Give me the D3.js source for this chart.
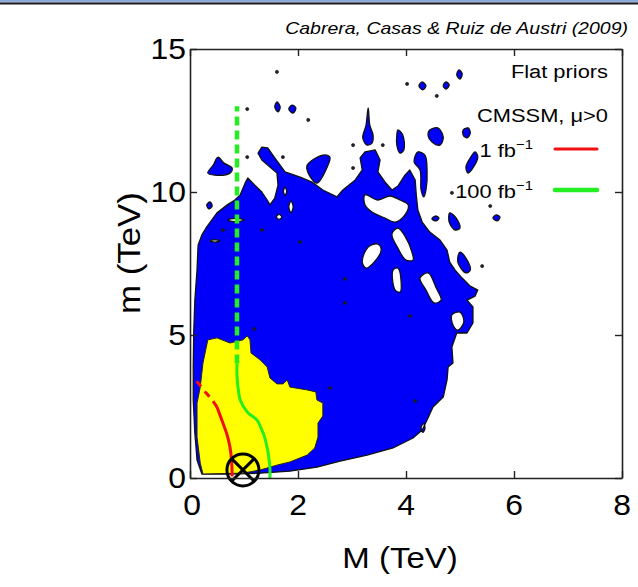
<!DOCTYPE html>
<html>
<head>
<meta charset="utf-8">
<script src="https://cdn.jsdelivr.net/npm/d3@7"></script>
<style>
  html, body { margin: 0; padding: 0; background: #fff; }
  svg { display: block; }
  text { font-family: "Liberation Sans", Arial, sans-serif; fill: #000; }
</style>
</head>
<body>
<svg id="chart" width="638" height="587"></svg>
<script>
// Axis domains and tick values (TeV)
const xDomain = [0, 8];
const yDomain = [0, 15];
const xTicks = [0, 2, 4, 6, 8];
const yTicks = [0, 5, 10, 15];

// 68% region (blue): outer boundary, [M, m] in TeV
const blueRegion = [
  [0.22,0.14],[0.13,0.63],[0.09,1.57],[0.06,2.73],[0.06,3.88],[0.07,5.17],[0.09,6.22],
  [0.13,7.27],[0.15,8.15],[0.22,8.50],[0.31,8.78],[0.50,9.27],[0.69,9.55],[0.83,9.72],
  [0.93,9.90],[1.02,10.31],[1.07,10.49],[1.20,10.24],[1.33,10.00],[1.43,9.72],[1.48,9.55],
  [1.57,9.79],[1.63,10.24],[1.61,10.66],[1.48,10.87],[1.33,11.12],[1.26,11.36],[1.33,11.57],
  [1.44,11.54],[1.57,11.19],[1.76,10.70],[2.04,10.52],[2.26,10.35],[2.46,10.07],[2.72,9.83],
  [2.83,10.07],[3.06,10.42],[3.19,10.77],[3.15,11.19],[3.24,11.40],[3.43,11.47],[3.52,11.12],
  [3.48,10.70],[3.61,10.35],[3.74,10.07],[3.85,10.21],[3.98,10.59],[4.07,10.77],[4.17,10.42],
  [4.19,9.90],[4.22,9.37],[4.30,8.95],[4.44,8.60],[4.63,8.32],[4.76,7.97],[4.81,7.55],
  [4.91,7.27],[5.04,6.99],[5.19,6.71],[5.33,6.57],[5.28,6.36],[5.13,6.22],[5.24,5.98],
  [5.24,5.42],[5.13,5.07],[4.94,5.07],[4.85,4.58],[4.87,4.02],[4.78,3.88],[4.76,3.43],
  [4.69,2.83],[4.50,2.48],[4.39,2.03],[4.30,1.68],[4.13,1.40],[3.76,1.05],[3.28,0.80],
  [2.78,0.59],[2.35,0.38],[1.85,0.24],[1.30,0.17],[0.74,0.14]
];

// Gaps inside the blue region
const blueHoles = [
  [[3.24,9.90],[3.48,9.72],[3.70,9.86],[3.89,9.72],[4.04,9.55],[3.98,9.20],[3.80,8.95],[3.61,9.09],[3.37,9.30],[3.24,9.55]],
  [[3.19,7.55],[3.30,8.08],[3.48,8.18],[3.54,7.97],[3.41,7.55],[3.26,7.34]],
  [[3.74,8.53],[3.85,8.74],[3.98,8.46],[4.11,7.90],[4.13,7.62],[4.00,7.62],[3.85,8.04]],
  [[4.26,6.99],[4.41,7.17],[4.56,6.64],[4.65,6.22],[4.52,6.12],[4.37,6.57]],
  [[3.76,7.27],[3.85,7.34],[3.91,6.85],[3.89,6.50],[3.80,6.57]],
  [[4.85,5.70],[5.00,5.80],[5.07,5.45],[4.96,5.17],[4.87,5.35]],
  [[0.70,9.02],[0.85,9.08],[1.00,9.02],[0.85,8.96]],
  [[0.37,8.29],[0.46,8.33],[0.55,8.29],[0.46,8.25]],
  [[1.87,9.68],[1.91,9.48],[1.87,9.28],[1.83,9.48]],
  [[1.60,9.13],[1.65,9.22],[1.70,9.13],[1.65,9.04]],
  [[1.76,10.17],[1.79,10.03],[1.76,9.89],[1.73,10.03]],
  [[4.28,1.78],[4.33,1.90],[4.35,1.72],[4.31,1.60]]
];

// Detached blue patches
const blueIslands = [
  [[0.33,10.66],[0.43,10.94],[0.52,11.22],[0.63,11.01],[0.78,10.84],[0.74,10.66],[0.46,10.59]],
  [[2.17,10.94],[2.46,11.29],[2.59,11.22],[2.54,10.87],[2.35,10.31],[2.19,10.66]],
  [[3.30,12.94],[3.33,12.34],[3.39,11.99],[3.37,11.71],[3.28,11.64],[3.20,11.89],[3.26,12.34]],
  [[3.85,12.17],[3.94,11.99],[3.96,11.47],[3.89,11.36],[3.83,11.64],[3.83,11.99]],
  [[4.44,12.17],[4.59,12.24],[4.69,11.92],[4.63,11.64],[4.48,11.75],[4.41,11.96]],
  [[5.06,12.17],[5.15,12.24],[5.19,12.06],[5.13,11.89],[5.06,11.99]],
  [[5.28,11.40],[5.33,11.22],[5.24,10.84],[5.15,10.66],[5.11,10.87],[5.19,11.19]],
  [[4.22,11.40],[4.35,11.29],[4.39,10.77],[4.37,10.07],[4.33,9.83],[4.28,10.07],[4.26,10.77],[4.15,11.05]],
  [[1.61,13.15],[1.67,12.97],[1.63,12.80],[1.57,12.97]],
  [[1.89,13.04],[1.96,12.94],[1.91,12.76],[1.83,12.90]],
  [[4.98,14.27],[5.04,14.13],[5.00,13.95],[4.94,14.09]],
  [[4.30,13.85],[4.37,13.71],[4.31,13.57],[4.24,13.71]],
  [[4.74,13.85],[4.80,13.74],[4.74,13.60],[4.69,13.71]],
  [[4.81,9.27],[4.93,9.09],[5.00,8.74],[4.91,8.67],[4.80,8.95]],
  [[5.67,9.20],[5.74,9.13],[5.69,8.99],[5.61,9.09]],
  [[4.54,9.16],[4.61,9.09],[4.56,8.99],[4.48,9.06]],
  [[5.00,7.90],[5.11,7.69],[5.19,7.27],[5.11,7.17],[4.96,7.55]],
  [[0.37,9.65],[0.41,9.51],[0.35,9.41],[0.31,9.55]]
];

// Tiny contour specks
const specks = [
  [1.61,14.20],[4.02,13.78],[4.57,13.36],[1.06,12.90],[2.19,12.52],[3.02,11.64],[3.57,11.64],
  [1.06,11.22],[1.72,11.22],[3.02,10.84],[4.85,9.97],[5.56,9.51],[5.41,7.41],[2.87,6.96],
  [2.87,6.12],[4.07,5.66],[1.19,5.21],[2.59,3.15],[4.17,2.69],[2.04,8.25],[1.33,8.67],[0.61,8.67]
];

// 95% region (yellow)
const yellowRegion = [
  [0.33,4.83],[0.50,4.90],[0.74,4.72],[0.98,4.83],[1.06,4.97],[1.11,4.83],[1.13,4.37],
  [1.30,4.13],[1.43,3.88],[1.48,3.50],[1.61,3.29],[1.72,3.29],[1.80,3.43],[1.85,3.18],
  [2.17,3.08],[2.33,3.01],[2.35,2.73],[2.46,2.62],[2.46,2.17],[2.37,1.92],[2.37,1.43],
  [2.31,1.05],[2.17,0.80],[1.85,0.56],[1.61,0.45],[1.30,0.28],[0.98,0.17],[0.24,0.14],
  [0.19,0.52],[0.13,1.43],[0.13,2.62],[0.19,3.18],[0.24,4.02]
];

// LHC reach, 1 fb^-1 (red): solid part and dashed continuation
const reach1Solid = [[0.78,0.05],[0.77,0.60],[0.74,1.08],[0.68,1.55],[0.61,1.92],[0.50,2.48]];
const reach1Dashed = [[0.50,2.48],[0.41,2.73],[0.30,2.97],[0.17,3.28],[0.07,3.50]];

// LHC reach, 100 fb^-1 (green)
const reach100Solid = [[1.48,0.0],[1.48,0.35],[1.45,0.85],[1.43,1.05],[1.37,1.50],[1.33,1.68],
  [1.24,2.03],[1.06,2.31],[0.93,2.73],[0.89,3.15],[0.87,3.60],[0.87,4.00]];
const reach100Dashed = [[0.87,4.00],[0.87,13.0]];

// Best-fit point
const bestFit = [0.98, 0.28];

const svg = d3.select("#chart");
const W = 638, H = 587;
const x = d3.scaleLinear().domain(xDomain).range([190, 622]);
const y = d3.scaleLinear().domain(yDomain).range([478, 49]);

// Window-style top rule
svg.append("rect").attr("x", 0).attr("y", 0).attr("width", W).attr("height", 2.5).attr("fill", "#8eaad8");
svg.append("line").attr("x1", 0).attr("x2", W).attr("y1", 3.5).attr("y2", 3.5)
  .attr("stroke", "#1a1a1a").attr("stroke-width", 2);

svg.append("defs").append("clipPath").attr("id", "plotClip")
  .append("rect").attr("x", x(0)).attr("y", y(15)).attr("width", x(8) - x(0)).attr("height", y(0) - y(15));

const plot = svg.append("g").attr("clip-path", "url(#plotClip)");

const ptX = d => x(d[0]), ptY = d => y(d[1]);
const linearClosed = d3.line().x(ptX).y(ptY).curve(d3.curveLinearClosed);
const smoothClosed = d3.line().x(ptX).y(ptY).curve(d3.curveCatmullRomClosed.alpha(0.5));
const smoothOpen = d3.line().x(ptX).y(ptY).curve(d3.curveCatmullRom.alpha(0.5));

const BLUE = "#0000fa";

// Blue region with holes
plot.append("path")
  .attr("d", linearClosed(blueRegion) + blueHoles.map(h => smoothClosed(h)).join(""))
  .attr("fill", BLUE).attr("fill-rule", "evenodd")
  .attr("stroke", "#111").attr("stroke-width", 1.3).attr("stroke-linejoin", "round");

plot.selectAll("path.island").data(blueIslands).join("path")
  .attr("class", "island")
  .attr("d", d => smoothClosed(d))
  .attr("fill", BLUE).attr("stroke", "#111").attr("stroke-width", 1.3);

plot.selectAll("circle.speck").data(specks).join("circle")
  .attr("class", "speck")
  .attr("cx", ptX).attr("cy", ptY).attr("r", 1.6)
  .attr("fill", "#222").attr("stroke", "#111").attr("stroke-width", 0.6);

// Yellow region
plot.append("path")
  .attr("d", linearClosed(yellowRegion))
  .attr("fill", "#ffff00").attr("stroke", "#222").attr("stroke-width", 1).attr("stroke-linejoin", "round");

// Reach curves
const RED = "#f01010", GREEN = "#22ee22";
plot.append("path").attr("d", smoothOpen(reach1Solid)).attr("fill", "none")
  .attr("stroke", RED).attr("stroke-width", 3);
plot.append("path").attr("d", smoothOpen(reach1Dashed)).attr("fill", "none")
  .attr("stroke", RED).attr("stroke-width", 3).attr("stroke-dasharray", "7 6");
plot.append("path").attr("d", smoothOpen(reach100Solid)).attr("fill", "none")
  .attr("stroke", GREEN).attr("stroke-width", 3);
plot.append("path").attr("d", d3.line().x(ptX).y(ptY)(reach100Dashed)).attr("fill", "none")
  .attr("stroke", GREEN).attr("stroke-width", 4.5).attr("stroke-dasharray", "9 5");

// Best-fit marker (circled cross)
const bf = svg.append("g").attr("transform", `translate(${x(bestFit[0])},${y(bestFit[1])})`);
bf.append("circle").attr("r", 16).attr("fill", "none").attr("stroke", "#000").attr("stroke-width", 3);
const k = 16 * Math.SQRT1_2;
bf.append("path").attr("d", `M${-k},${-k}L${k},${k}M${-k},${k}L${k},${-k}`)
  .attr("stroke", "#000").attr("stroke-width", 3);

// Axes: inward ticks on all four sides
const frame = svg.append("g");
const tickLen = 7;
frame.append("g").attr("transform", `translate(0,${y(0)})`)
  .call(d3.axisBottom(x).tickValues(xTicks).tickSizeInner(-tickLen).tickSizeOuter(0).tickFormat(""));
frame.append("g").attr("transform", `translate(0,${y(15)})`)
  .call(d3.axisTop(x).tickValues(xTicks).tickSizeInner(-tickLen).tickSizeOuter(0).tickFormat(""));
frame.append("g").attr("transform", `translate(${x(0)},0)`)
  .call(d3.axisLeft(y).tickValues(yTicks).tickSizeInner(-tickLen).tickSizeOuter(0).tickFormat(""));
frame.append("g").attr("transform", `translate(${x(8)},0)`)
  .call(d3.axisRight(y).tickValues(yTicks).tickSizeInner(-tickLen).tickSizeOuter(0).tickFormat(""));
frame.selectAll(".domain").attr("stroke", "#222").attr("stroke-width", 1.6);
frame.selectAll(".tick line").attr("stroke", "#222").attr("stroke-width", 1.4);

// Text helper: label stretched slightly in x, anchored at (tx, ty)
function label(parent, tx, ty, str, size, anchor, sx, extra) {
  const g = parent.append("g").attr("transform", `translate(${tx},${ty}) scale(${sx},1)`);
  const t = g.append("text").attr("text-anchor", anchor).attr("font-size", size).text(str);
  if (extra) extra(t);
  return t;
}

// Tick labels
xTicks.forEach(v => label(svg, x(v) + (v === 0 ? 2 : 0), 515, v, 29, "middle", 1.1));
yTicks.forEach(v => label(svg, 186, y(v) + 10, v, 29, "end", 1.1));

// Axis titles
label(svg, 400, 568, "M (TeV)", 30, "middle", 1.1);
svg.append("g").attr("transform", "translate(140,253) rotate(-90) scale(1.2,1.1)")
  .append("text").attr("text-anchor", "middle").attr("font-size", 29).text("m (TeV)");

// Credit line
label(svg, 628, 34, "Cabrera, Casas & Ruiz de Austri (2009)", 16, "end", 1.22,
  t => t.attr("font-style", "italic"));

// Legend
label(svg, 608, 78, "Flat priors", 19, "end", 1.15);
label(svg, 608, 122, "CMSSM, μ>0", 19, "end", 1.15);

const legendItems = [
  { label: "1 fb", color: RED, width: 3, yv: 157 },
  { label: "100 fb", color: GREEN, width: 4.5, yv: 198 }
];
legendItems.forEach(it => {
  label(svg, 533, it.yv, null, 19, "end", 1.15, t => {
    t.text(null);
    t.append("tspan").text(it.label);
    t.append("tspan").attr("dy", -8).attr("font-size", 13).text("−1");
  });
  svg.append("line").attr("x1", 555).attr("x2", 597).attr("y1", it.yv - 8).attr("y2", it.yv - 8)
    .attr("stroke", it.color).attr("stroke-width", it.width).attr("stroke-linecap", "round");
});
</script>
</body>
</html>
